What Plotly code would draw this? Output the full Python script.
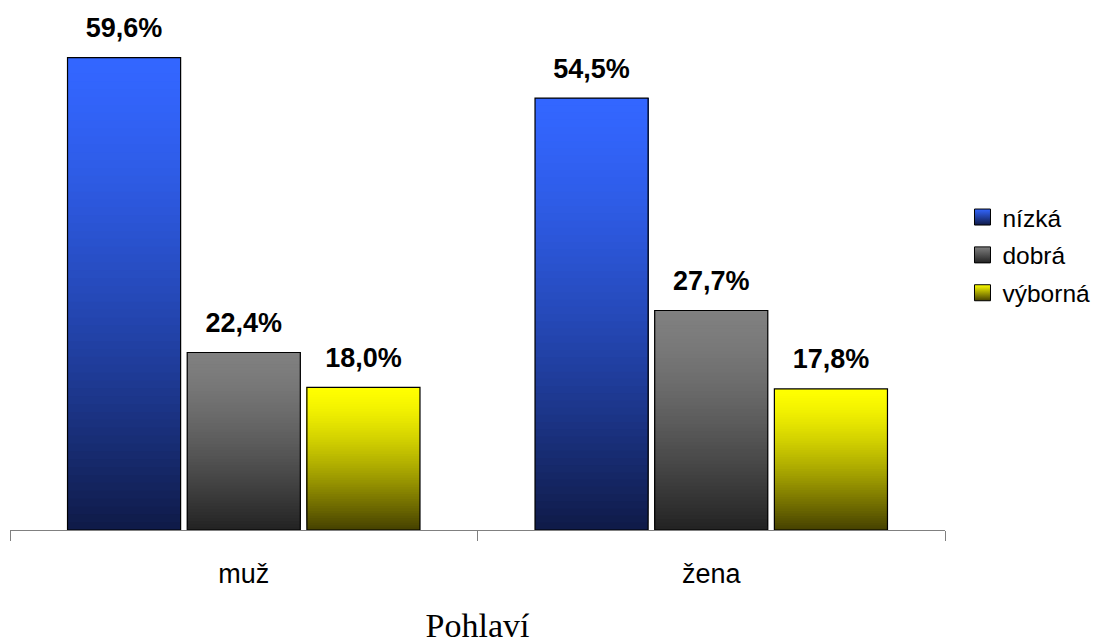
import plotly.graph_objects as go

# Sample groups and quality levels
categories = ["muž", "žena"]
series_names = ["nízká", "dobrá", "výborná"]

# Percentages per level, one value per category
nizka = [59.6, 54.5]
dobra = [22.4, 27.7]
vyborna = [18.0, 17.8]
series_values = [nizka, dobra, vyborna]

# Gradient end colours per level (top -> bottom of each bar)
top_colors = ["#3366ff", "#808080", "#ffff00"]
bottom_colors = ["#0f1a47", "#222222", "#454000"]

N_STEPS = 60          # slices used to shade each bar
GAMMA = 1.4           # keeps the light tone near the top a bit longer
LABEL_LIFT = 1.45     # clearance between a bar top and its value label (data units)
Y_MAX = 64.36

FONT_SANS = "Liberation Sans, Arial, sans-serif"
FONT_SERIF = "Liberation Serif, Times New Roman, serif"


def hex_to_rgb(h):
    h = h.lstrip("#")
    return tuple(int(h[i:i + 2], 16) for i in (0, 2, 4))


def blend(c_top, c_bottom, t_from_top):
    a = hex_to_rgb(c_top)
    b = hex_to_rgb(c_bottom)
    m = t_from_top ** GAMMA
    return "rgb({},{},{})".format(*[round(x + (y - x) * m) for x, y in zip(a, b)])


def fmt(v):
    return f"{v:.1f}".replace(".", ",") + "%"


fig = go.Figure()

for name, vals, ctop, cbot in zip(series_names, series_values, top_colors, bottom_colors):
    # shaded body: overlapping slices, each reaching the bar top
    for k in range(N_STEPS):
        frac = k / N_STEPS
        t_from_top = 1 - (k + 0.5) / N_STEPS
        fig.add_trace(go.Bar(
            x=categories,
            y=[v * (1 - frac) for v in vals],
            base=[v * frac for v in vals],
            offsetgroup=name,
            marker=dict(color=blend(ctop, cbot, t_from_top), line=dict(width=0)),
            showlegend=False,
            hoverinfo="skip",
        ))
    # outline
    fig.add_trace(go.Bar(
        x=categories,
        y=vals,
        offsetgroup=name,
        name=name,
        marker=dict(color="rgba(0,0,0,0)", line=dict(color="#000000", width=1.2)),
        showlegend=False,
        hovertemplate="%{x}: %{y:.1f}%<extra>" + name + "</extra>",
    ))
    # value labels
    fig.add_trace(go.Bar(
        x=categories,
        y=[LABEL_LIFT] * len(vals),
        base=vals,
        offsetgroup=name,
        marker=dict(color="rgba(0,0,0,0)", line=dict(width=0)),
        text=[fmt(v) for v in vals],
        textposition="outside",
        textfont=dict(family=FONT_SANS, size=27, color="#000000", weight="bold"),
        constraintext="none",
        cliponaxis=False,
        showlegend=False,
        hoverinfo="skip",
    ))
    # legend entry with a shaded square
    fig.add_trace(go.Scatter(
        x=[None], y=[None],
        mode="markers",
        name=name,
        legendgroup=name,
        marker=dict(
            symbol="square", size=16, color=ctop,
            gradient=dict(type="vertical", color=cbot),
            line=dict(color="#000000", width=1),
        ),
    ))

fig.update_layout(
    width=1096,
    height=644,
    margin=dict(l=10, r=151, t=20, b=114, autoexpand=False),
    paper_bgcolor="#ffffff",
    plot_bgcolor="#ffffff",
    barmode="group",
    bargap=0.232,
    bargroupgap=0.055,
    showlegend=True,
    legend=dict(
        x=1.0187, xanchor="left",
        y=0.539, yanchor="middle",
        font=dict(family=FONT_SANS, size=24.5, color="#000000"),
        traceorder="grouped",
        tracegroupgap=3,
        bgcolor="rgba(0,0,0,0)",
    ),
    xaxis=dict(
        type="category",
        showgrid=False,
        showline=True,
        linecolor="#808080",
        linewidth=1,
        ticks="outside",
        tickson="boundaries",
        ticklen=10,
        tickcolor="#808080",
        tickwidth=1,
        ticklabelstandoff=20,
        tickfont=dict(family=FONT_SANS, size=27, color="#000000"),
        title=dict(text="Pohlaví", font=dict(family=FONT_SERIF, size=34, color="#000000"), standoff=33),
        automargin=False,
    ),
    yaxis=dict(visible=False, range=[0, Y_MAX], showgrid=False, zeroline=False),
)

fig.write_html("out.html")
